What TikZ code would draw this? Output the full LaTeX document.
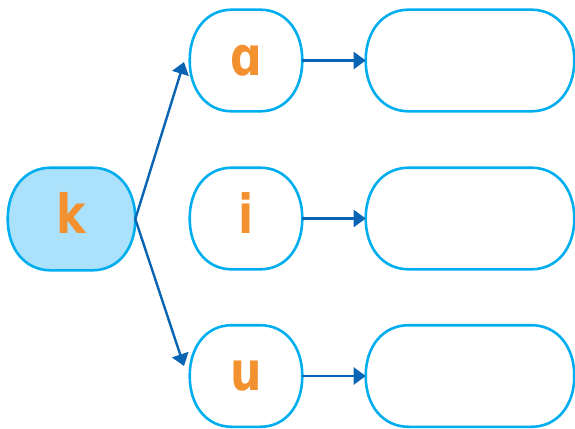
\documentclass[tikz,border=0pt]{standalone}
\usepackage{fontspec}
\newfontfamily\lblfont[FakeStretch=0.82]{DejaVu Sans}
\usetikzlibrary{arrows.meta,backgrounds}
\definecolor{bord}{HTML}{00AEEF}
\definecolor{fillk}{HTML}{ABE1FA}
\definecolor{arr}{HTML}{0A64B4}
\definecolor{lett}{HTML}{F39130}
\newcommand\drawblob[4][]{%
  \pgfmathsetmacro\blobcx{0.6*#3}\pgfmathsetmacro\blobcy{0.6*#4}%
  \draw[outl,#1] ([xshift=#3pt]#2.north west) -- ([xshift=-#3pt]#2.north east)
    .. controls +(\blobcx,0) and +(0,-\blobcy) .. (#2.east)
    .. controls +(0,\blobcy) and +(\blobcx,0) .. ([xshift=-#3pt]#2.south east)
    -- ([xshift=#3pt]#2.south west)
    .. controls +(-\blobcx,0) and +(0,\blobcy) .. (#2.west)
    .. controls +(0,-\blobcy) and +(-\blobcx,0) .. ([xshift=#3pt]#2.north west) -- cycle;}
\begin{document}
\begin{tikzpicture}[x=1pt,y=-1pt,
  box/.style={minimum width=#1,minimum height=99pt,inner sep=0pt,outer sep=1.3pt,
    text height=29pt,text depth=0pt,
    font=\lblfont\bfseries\fontsize{54}{60}\selectfont,text=lett},
  outl/.style={draw=bord,line width=2.6pt},
  conn/.style={draw=arr,line width=2.4pt,-{Triangle[length=12pt,width=17pt]}}]
\useasboundingbox (0,0) rectangle (575,428);
\node[box=125pt,minimum height=100pt] (k) at (71.5,219) {k};
\node[box=110pt] (a) at (246,60.5) {ɑ};
\node[box=110pt] (i) at (246,218.5) {i};
\node[box=110pt] (u) at (246,376) {u};
\node[box=206pt] (ra) at (470,60.5) {};
\node[box=206pt] (ri) at (470,218.5) {};
\node[box=206pt] (ru) at (470,376) {};
\begin{scope}[on background layer]
\drawblob[fill=fillk]{k}{43}{50}
\drawblob{a}{42}{49.5}
\drawblob{i}{42}{49.5}
\drawblob{u}{42}{49.5}
\drawblob{ra}{43}{49.5}
\drawblob{ri}{43}{49.5}
\drawblob{ru}{43}{49.5}
\end{scope}
\coordinate (ta) at (184,62);
\coordinate (tu) at (184,366);
\draw[conn] (k.east) -- (ta);
\draw[conn] (k.east) -- (tu);
\draw[conn] (a.east) -- (ra.west);
\draw[conn] (i.east) -- (ri.west);
\draw[conn] (u.east) -- (ru.west);
\end{tikzpicture}
\end{document}
